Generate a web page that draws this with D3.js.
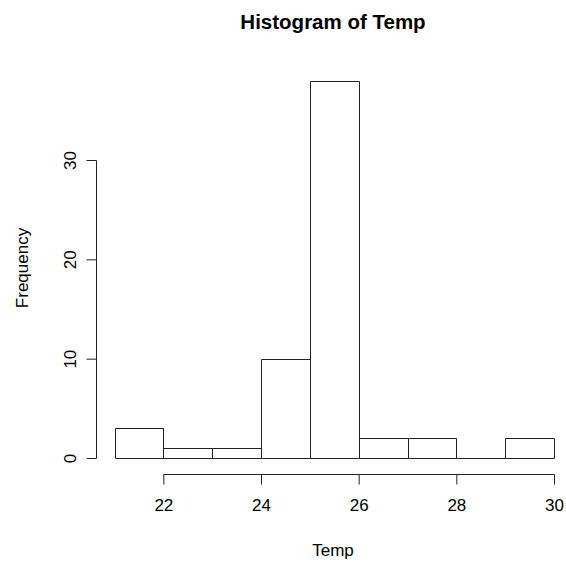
<!DOCTYPE html>
<html>
<head>
<meta charset="utf-8">
<script src="https://cdn.jsdelivr.net/npm/d3@7"></script>
<style>
  body { margin: 0; background: #fff; }
  text { font-family: "Liberation Sans", Arial, sans-serif; fill: #000; }
</style>
</head>
<body>
<div id="chart"></div>
<script>
// Datos del histograma (clases de ancho 1)
const binStarts = [21, 22, 23, 24, 25, 26, 27, 28, 29];
const counts = [3, 1, 1, 10, 38, 2, 2, 0, 2];
const xTicks = [22, 24, 26, 28, 30];
const yTicks = [0, 10, 20, 30];

const width = 566, height = 565;
const svg = d3.select('#chart').append('svg')
    .attr('width', width)
    .attr('height', height);

// Escalas
const x = d3.scaleLinear().domain([21, 30]).range([114.5, 554]);
const y = d3.scaleLinear().domain([0, 30]).range([458, 160]);
const px = v => Math.round(v) + 0.5;

// Barras (como path para que las de altura 0 también se vean)
svg.selectAll('.bar')
    .data(binStarts)
    .enter().append('path')
    .attr('class', 'bar')
    .attr('d', (d, i) => {
        const x0 = px(x(d)), x1 = px(x(d + 1));
        const y0 = px(y(0)), y1 = px(y(counts[i]));
        return `M${x0},${y0}H${x1}V${y1}H${x0}Z`;
    })
    .style('fill', 'none')
    .style('stroke', '#222')
    .style('stroke-width', 1);

// Eje X
const xAxis = svg.append('g')
    .attr('transform', 'translate(0,474.5)')
    .call(d3.axisBottom(x).tickValues(xTicks).tickSize(10).tickPadding(14).tickSizeOuter(0));
xAxis.select('.domain').attr('d', `M${px(x(22))},0H${px(x(30))}`);
xAxis.selectAll('.tick line').attr('stroke', '#222');
xAxis.selectAll('.tick text').style('font-size', '17px').attr('fill', '#000');

// Eje Y
const yAxis = svg.append('g')
    .attr('transform', 'translate(96.5,0)')
    .call(d3.axisLeft(y).tickValues(yTicks).tickSize(10).tickSizeOuter(0));
yAxis.select('.domain').attr('d', `M0,${px(y(0))}V${px(y(30))}`);
yAxis.selectAll('.tick line').attr('stroke', '#222');
yAxis.selectAll('.tick text')
    .attr('x', null)
    .attr('text-anchor', 'middle')
    .attr('transform', 'translate(-26,0) rotate(-90)')
    .attr('dy', '0.35em')
    .style('font-size', '17px').attr('fill', '#000');
svg.selectAll('.domain').attr('stroke', '#222');

// Títulos
svg.append('text')
    .attr('x', 333).attr('y', 29)
    .attr('text-anchor', 'middle')
    .style('font-size', '20.5px').style('font-weight', 'bold')
    .text('Histogram of Temp');

svg.append('text')
    .attr('x', 333).attr('y', 556)
    .attr('text-anchor', 'middle')
    .style('font-size', '17px')
    .text('Temp');

svg.append('text')
    .attr('transform', 'translate(28,268) rotate(-90)')
    .attr('text-anchor', 'middle')
    .style('font-size', '17px')
    .text('Frequency');
</script>
</body>
</html>
